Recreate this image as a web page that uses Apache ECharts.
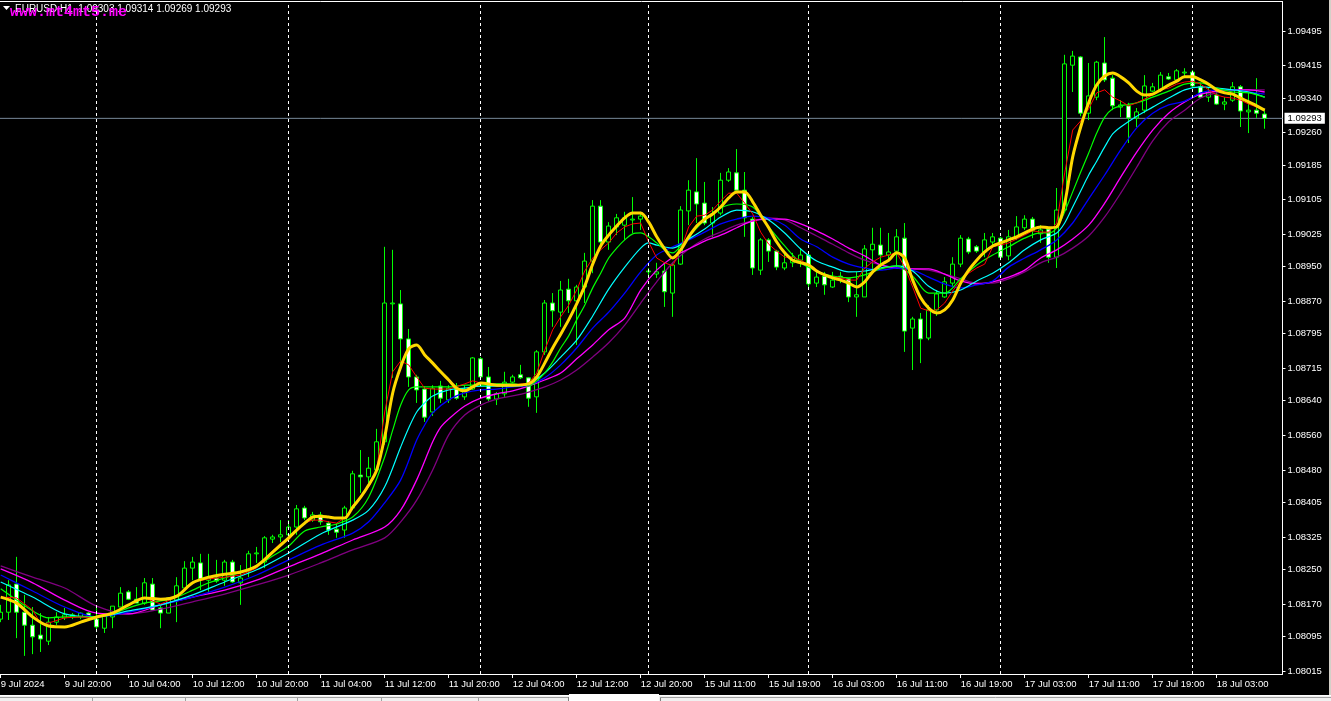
<!DOCTYPE html>
<html><head><meta charset="utf-8">
<script src="https://cdn.jsdelivr.net/npm/echarts/dist/echarts.min.js"></script>
<style>html,body{margin:0;padding:0;background:#000;overflow:hidden}#c{width:1331px;height:701px}</style>
</head><body><div id="c"></div>
<script>
const symbolTitle = 'EURUSD,H1  1.09303 1.09314 1.09269 1.09293';
const watermark = 'www.mt4mt5.me';
const lastPrice = 1.09293;
const xTickLabels = ['9 Jul 2024','9 Jul 20:00','10 Jul 04:00','10 Jul 12:00','10 Jul 20:00','11 Jul 04:00','11 Jul 12:00','11 Jul 20:00','12 Jul 04:00','12 Jul 12:00','12 Jul 20:00','15 Jul 11:00','15 Jul 19:00','16 Jul 03:00','16 Jul 11:00','16 Jul 19:00','17 Jul 03:00','17 Jul 11:00','17 Jul 19:00','18 Jul 03:00'];
const xTickBars = [0,8,16,24,32,40,48,56,64,72,80,88,96,104,112,120,128,136,144,152];
const daySeparatorBars = [12, 36, 60, 81, 101, 125, 149];
const yTickValues = [1.08015,1.08095,1.08170,1.08250,1.08325,1.08405,1.08480,1.08560,1.08640,1.08715,1.08795,1.08870,1.08950,1.09025,1.09105,1.09185,1.09260,1.09340,1.09415,1.09495];

const opens = [1.08135,1.08151,1.08216,1.08151,1.08121,1.08098,1.08084,1.08128,1.08138,1.08140,
1.08140,1.08149,1.08135,1.08114,1.08140,1.08163,1.08198,1.08181,1.08172,1.08216,
1.08161,1.08149,1.08179,1.08207,1.08253,1.08265,1.08225,1.08230,1.08225,1.08267,
1.08219,1.08246,1.08286,1.08267,1.08320,1.08325,1.08330,1.08348,1.08392,1.08364,
1.08376,1.08357,1.08343,1.08341,1.08392,1.08468,1.08464,1.08480,1.08545,1.08864,
1.08864,1.08783,1.08695,1.08667,1.08614,1.08674,1.08642,1.08667,1.08649,1.08667,
1.08737,1.08695,1.08644,1.08656,1.08683,1.08700,1.08693,1.08649,1.08753,1.08866,
1.08845,1.08898,1.08871,1.08903,1.08963,1.09090,1.09007,1.09042,1.09046,1.09058,
1.09060,1.08938,1.08933,1.08940,1.08889,1.08956,1.09079,1.09123,1.09097,1.09051,
1.09074,1.09150,1.09167,1.09127,1.09060,1.08942,1.09012,1.08986,1.08947,1.08959,
1.08965,1.08977,1.08912,1.08928,1.08903,1.08928,1.08922,1.08880,1.08880,1.08989,
1.09000,1.08977,1.08986,1.09016,1.08808,1.08829,1.08785,1.08850,1.08880,1.08912,
1.08956,1.09014,1.08996,1.08984,1.09007,1.09016,1.08975,1.09019,1.09040,1.09060,
1.09026,1.09037,1.08972,1.09081,1.09416,1.09435,1.09305,1.09342,1.09421,1.09386,
1.09319,1.09322,1.09294,1.09312,1.09356,1.09359,1.09389,1.09382,1.09398,1.09400,
1.09366,1.09342,1.09347,1.09326,1.09335,1.09366,1.09308,1.09312,1.09303];
const closes = [1.08151,1.08214,1.08151,1.08121,1.08094,1.08089,1.08128,1.08140,1.08145,1.08145,
1.08149,1.08140,1.08117,1.08142,1.08165,1.08195,1.08181,1.08172,1.08219,1.08156,
1.08149,1.08184,1.08212,1.08253,1.08267,1.08228,1.08232,1.08223,1.08267,1.08221,
1.08230,1.08286,1.08288,1.08323,1.08325,1.08330,1.08348,1.08390,1.08369,1.08376,
1.08360,1.08341,1.08336,1.08392,1.08471,1.08464,1.08484,1.08545,1.08866,1.08866,
1.08783,1.08695,1.08665,1.08602,1.08669,1.08646,1.08669,1.08646,1.08665,1.08739,
1.08695,1.08644,1.08656,1.08683,1.08695,1.08693,1.08646,1.08753,1.08866,1.08848,
1.08896,1.08871,1.08903,1.08963,1.09090,1.09007,1.09044,1.09063,1.09063,1.09060,
1.09067,1.08940,1.08938,1.08892,1.08954,1.09081,1.09127,1.09095,1.09051,1.09072,
1.09150,1.09169,1.09127,1.09063,1.08947,1.09012,1.08986,1.08949,1.08959,1.08972,
1.08977,1.08910,1.08926,1.08908,1.08919,1.08922,1.08880,1.08885,1.08991,1.09002,
1.08977,1.08984,1.09019,1.08801,1.08829,1.08783,1.08850,1.08887,1.08915,1.08956,
1.09016,1.08984,1.08986,1.09012,1.09019,1.08972,1.09019,1.09042,1.09060,1.09033,
1.09035,1.08972,1.09081,1.09419,1.09437,1.09305,1.09345,1.09423,1.09382,1.09322,
1.09324,1.09294,1.09308,1.09368,1.09366,1.09393,1.09384,1.09403,1.09400,1.09368,
1.09342,1.09352,1.09326,1.09331,1.09366,1.09310,1.09312,1.09305,1.09293];
const highs = [1.08168,1.08225,1.08279,1.08191,1.08163,1.08149,1.08140,1.08151,1.08161,1.08149,
1.08151,1.08151,1.08161,1.08145,1.08165,1.08209,1.08202,1.08209,1.08230,1.08230,
1.08170,1.08186,1.08232,1.08269,1.08279,1.08286,1.08286,1.08272,1.08272,1.08272,
1.08260,1.08293,1.08302,1.08327,1.08330,1.08364,1.08364,1.08399,1.08397,1.08383,
1.08383,1.08362,1.08357,1.08397,1.08478,1.08526,1.08510,1.08575,1.08996,1.08989,
1.08896,1.08806,1.08700,1.08674,1.08676,1.08686,1.08676,1.08681,1.08676,1.08741,
1.08741,1.08718,1.08660,1.08707,1.08700,1.08723,1.08695,1.08757,1.08873,1.08889,
1.08917,1.08922,1.08908,1.08982,1.09104,1.09104,1.09053,1.09072,1.09077,1.09111,
1.09077,1.08947,1.08959,1.08959,1.08959,1.09090,1.09150,1.09201,1.09146,1.09088,
1.09167,1.09178,1.09222,1.09169,1.09065,1.09016,1.09016,1.08989,1.08984,1.08982,
1.08993,1.08982,1.08942,1.08938,1.08938,1.08938,1.08924,1.08938,1.09000,1.09040,
1.09040,1.09028,1.09037,1.09051,1.08834,1.08843,1.08861,1.08896,1.08926,1.08972,
1.09023,1.09019,1.09000,1.09028,1.09028,1.09019,1.09035,1.09067,1.09069,1.09065,
1.09046,1.09042,1.09132,1.09440,1.09449,1.09437,1.09421,1.09426,1.09481,1.09393,
1.09335,1.09329,1.09317,1.09393,1.09375,1.09400,1.09398,1.09407,1.09409,1.09405,
1.09375,1.09363,1.09363,1.09342,1.09377,1.09370,1.09352,1.09386,1.09314];
const lows = [1.08128,1.08133,1.08091,1.08050,1.08054,1.08059,1.08075,1.08121,1.08133,1.08135,
1.08135,1.08138,1.08105,1.08103,1.08114,1.08163,1.08179,1.08172,1.08168,1.08156,
1.08114,1.08149,1.08128,1.08202,1.08225,1.08202,1.08198,1.08219,1.08212,1.08219,
1.08168,1.08232,1.08265,1.08253,1.08311,1.08313,1.08323,1.08330,1.08364,1.08360,
1.08353,1.08330,1.08323,1.08323,1.08387,1.08427,1.08450,1.08473,1.08538,1.08693,
1.08718,1.08672,1.08635,1.08591,1.08605,1.08635,1.08635,1.08642,1.08642,1.08665,
1.08693,1.08639,1.08630,1.08649,1.08681,1.08690,1.08626,1.08612,1.08746,1.08811,
1.08811,1.08843,1.08769,1.08866,1.08935,1.09000,1.08989,1.09023,1.09012,1.09028,
1.09035,1.08924,1.08924,1.08857,1.08834,1.08954,1.09046,1.09051,1.09046,1.09019,
1.09069,1.09146,1.09123,1.09019,1.08931,1.08931,1.08961,1.08942,1.08942,1.08949,
1.08949,1.08903,1.08903,1.08885,1.08901,1.08912,1.08868,1.08834,1.08880,1.08935,
1.08954,1.08965,1.08949,1.08753,1.08711,1.08727,1.08780,1.08836,1.08878,1.08903,
1.08949,1.08979,1.08982,1.08972,1.08996,1.08965,1.08965,1.09012,1.09035,1.09016,
1.09005,1.08959,1.08947,1.09077,1.09354,1.09298,1.09289,1.09335,1.09377,1.09312,
1.09296,1.09236,1.09273,1.09305,1.09354,1.09354,1.09382,1.09377,1.09389,1.09363,
1.09340,1.09331,1.09324,1.09312,1.09331,1.09273,1.09259,1.09294,1.09269];

// moving-average lines: [bar index, price]
const maYellow = [[0,1.08186],[2,1.08172],[4,1.08140],[6,1.08119],[8,1.08117],[10,1.08128],[12,1.08140],[14,1.08149],[16,1.08168],[18,1.08184],[20,1.08181],[22,1.08188],[24,1.08219],[26,1.08232],[28,1.08239],[30,1.08244],[32,1.08258],[34,1.08290],[36,1.08323],[37,1.08341],[38,1.08357],[39,1.08371],[40,1.08373],[41,1.08371],[42,1.08369],[43,1.08369],[44,1.08394],[45,1.08417],[46,1.08445],[47,1.08480],[48,1.08556],[49,1.08658],[50,1.08718],[51,1.08760],[52,1.08769],[53,1.08746],[54,1.08727],[55,1.08707],[56,1.08688],[57,1.08669],[58,1.08663],[59,1.08672],[60,1.08681],[62,1.08676],[64,1.08676],[66,1.08679],[67,1.08695],[68,1.08727],[69,1.08762],[70,1.08794],[71,1.08827],[72,1.08864],[73,1.08905],[74,1.08956],[75,1.08998],[76,1.09023],[77,1.09044],[78,1.09063],[79,1.09074],[80,1.09074],[81,1.09053],[82,1.09019],[83,1.08991],[84,1.08970],[85,1.08989],[86,1.09019],[87,1.09044],[88,1.09060],[89,1.09072],[90,1.09088],[91,1.09109],[92,1.09123],[93,1.09123],[94,1.09100],[95,1.09069],[96,1.09040],[97,1.09007],[98,1.08982],[99,1.08965],[100,1.08959],[101,1.08954],[102,1.08940],[103,1.08931],[104,1.08924],[105,1.08919],[106,1.08912],[107,1.08903],[108,1.08915],[109,1.08938],[110,1.08954],[111,1.08965],[112,1.08982],[113,1.08970],[114,1.08919],[115,1.08878],[116,1.08854],[117,1.08843],[118,1.08850],[119,1.08873],[120,1.08912],[121,1.08942],[122,1.08965],[123,1.08984],[124,1.08998],[125,1.09005],[126,1.09012],[127,1.09019],[128,1.09028],[129,1.09037],[130,1.09042],[131,1.09040],[132,1.09042],[133,1.09097],[134,1.09204],[135,1.09273],[136,1.09329],[137,1.09370],[138,1.09391],[139,1.09398],[140,1.09389],[141,1.09375],[142,1.09356],[143,1.09347],[144,1.09349],[145,1.09359],[146,1.09370],[147,1.09379],[148,1.09389],[149,1.09389],[150,1.09382],[151,1.09372],[152,1.09359],[153,1.09352],[154,1.09349],[155,1.09340],[156,1.09331],[157,1.09322],[158,1.09312]];
const maRed = [[0,1.08186],[2,1.08184],[4,1.08156],[5,1.08124],[6,1.08126],[8,1.08138],[10,1.08140],[12,1.08138],[14,1.08147],[16,1.08168],[18,1.08184],[19,1.08177],[20,1.08170],[22,1.08186],[23,1.08207],[24,1.08221],[26,1.08228],[28,1.08232],[30,1.08237],[32,1.08253],[33,1.08276],[34,1.08293],[35,1.08311],[36,1.08318],[37,1.08341],[38,1.08357],[39,1.08364],[40,1.08364],[41,1.08360],[42,1.08357],[43,1.08369],[44,1.08394],[45,1.08415],[46,1.08441],[47,1.08480],[48,1.08614],[49,1.08707],[50,1.08732],[51,1.08723],[52,1.08695],[53,1.08669],[54,1.08667],[56,1.08667],[58,1.08679],[59,1.08686],[60,1.08681],[62,1.08676],[64,1.08676],[66,1.08681],[67,1.08704],[68,1.08757],[69,1.08804],[70,1.08834],[71,1.08861],[72,1.08896],[73,1.08940],[74,1.08970],[75,1.08989],[76,1.09005],[77,1.09028],[78,1.09042],[79,1.09049],[80,1.09051],[81,1.09007],[82,1.08970],[83,1.08959],[84,1.08952],[85,1.08989],[86,1.09042],[87,1.09067],[88,1.09069],[89,1.09081],[90,1.09102],[91,1.09120],[92,1.09120],[93,1.09097],[94,1.09072],[95,1.09030],[96,1.09002],[97,1.08986],[98,1.08972],[99,1.08972],[100,1.08965],[101,1.08954],[102,1.08940],[103,1.08931],[104,1.08926],[105,1.08924],[106,1.08919],[107,1.08919],[108,1.08947],[109,1.08961],[110,1.08972],[111,1.08977],[112,1.08982],[113,1.08949],[114,1.08903],[115,1.08854],[116,1.08848],[117,1.08850],[118,1.08866],[119,1.08894],[120,1.08919],[121,1.08935],[122,1.08947],[123,1.08956],[124,1.08996],[125,1.09000],[126,1.09005],[127,1.09014],[128,1.09023],[129,1.09033],[130,1.09030],[131,1.09030],[132,1.09051],[133,1.09167],[134,1.09266],[135,1.09287],[136,1.09315],[137,1.09352],[138,1.09359],[139,1.09342],[140,1.09333],[141,1.09322],[142,1.09329],[143,1.09338],[144,1.09347],[145,1.09359],[146,1.09363],[147,1.09372],[148,1.09377],[149,1.09379],[150,1.09372],[151,1.09359],[152,1.09347],[153,1.09342],[154,1.09340],[155,1.09335],[156,1.09326],[157,1.09319],[158,1.09312]];
const maGreen = [[0,1.08205],[2,1.08179],[4,1.08154],[6,1.08138],[8,1.08140],[10,1.08140],[12,1.08140],[14,1.08147],[16,1.08161],[18,1.08172],[20,1.08177],[22,1.08186],[24,1.08202],[26,1.08219],[28,1.08230],[30,1.08244],[32,1.08258],[34,1.08281],[36,1.08304],[38,1.08339],[40,1.08348],[42,1.08355],[44,1.08371],[46,1.08417],[48,1.08510],[49,1.08572],[50,1.08630],[51,1.08665],[52,1.08672],[54,1.08672],[56,1.08672],[58,1.08676],[60,1.08676],[62,1.08679],[64,1.08679],[66,1.08674],[67,1.08686],[68,1.08704],[69,1.08730],[70,1.08762],[71,1.08790],[72,1.08827],[73,1.08861],[74,1.08901],[75,1.08935],[76,1.08970],[77,1.08993],[78,1.09012],[79,1.09026],[80,1.09028],[81,1.09019],[82,1.09005],[83,1.08989],[84,1.08982],[85,1.08998],[86,1.09019],[88,1.09058],[90,1.09086],[92,1.09095],[94,1.09088],[96,1.09042],[98,1.08998],[100,1.08959],[102,1.08940],[104,1.08928],[106,1.08924],[108,1.08931],[110,1.08945],[112,1.08952],[114,1.08928],[116,1.08889],[118,1.08889],[120,1.08922],[122,1.08954],[124,1.08977],[126,1.08996],[128,1.09016],[130,1.09028],[131,1.09028],[132,1.09040],[133,1.09077],[134,1.09123],[135,1.09169],[136,1.09213],[137,1.09259],[138,1.09296],[139,1.09315],[140,1.09322],[142,1.09329],[144,1.09342],[146,1.09356],[148,1.09372],[150,1.09375],[152,1.09363],[154,1.09354],[156,1.09352],[158,1.09342]];
const maCyan = [[0,1.08221],[4,1.08186],[8,1.08147],[12,1.08140],[16,1.08154],[20,1.08168],[24,1.08191],[28,1.08221],[32,1.08249],[36,1.08288],[40,1.08332],[44,1.08364],[46,1.08387],[48,1.08441],[50,1.08533],[51,1.08577],[52,1.08614],[53,1.08635],[54,1.08651],[56,1.08665],[58,1.08669],[60,1.08674],[62,1.08674],[64,1.08674],[66,1.08679],[68,1.08704],[70,1.08741],[72,1.08780],[74,1.08836],[76,1.08898],[78,1.08949],[80,1.08993],[81,1.09005],[82,1.09000],[84,1.08993],[86,1.09014],[88,1.09037],[90,1.09065],[92,1.09081],[94,1.09077],[96,1.09058],[98,1.09028],[100,1.08991],[102,1.08963],[104,1.08949],[106,1.08938],[108,1.08940],[110,1.08947],[112,1.08952],[114,1.08940],[116,1.08905],[118,1.08889],[120,1.08896],[122,1.08917],[124,1.08935],[126,1.08959],[128,1.08989],[130,1.09012],[132,1.09028],[133,1.09051],[134,1.09088],[135,1.09125],[136,1.09162],[137,1.09194],[138,1.09227],[139,1.09257],[140,1.09273],[142,1.09298],[144,1.09319],[146,1.09340],[148,1.09359],[150,1.09366],[152,1.09363],[154,1.09359],[156,1.09354],[158,1.09342]];
const maBlue = [[0,1.08237],[4,1.08200],[8,1.08163],[12,1.08140],[16,1.08151],[20,1.08168],[24,1.08186],[28,1.08209],[32,1.08237],[36,1.08272],[40,1.08306],[44,1.08334],[46,1.08360],[48,1.08404],[50,1.08457],[52,1.08549],[53,1.08584],[54,1.08612],[56,1.08642],[58,1.08658],[60,1.08665],[62,1.08667],[64,1.08672],[66,1.08676],[68,1.08693],[70,1.08723],[72,1.08762],[74,1.08808],[76,1.08845],[78,1.08889],[80,1.08938],[82,1.08977],[84,1.08996],[86,1.09012],[88,1.09030],[90,1.09049],[92,1.09060],[94,1.09067],[96,1.09063],[98,1.09046],[100,1.09014],[102,1.08996],[104,1.08972],[106,1.08956],[108,1.08947],[110,1.08942],[112,1.08947],[114,1.08942],[116,1.08926],[118,1.08910],[120,1.08901],[122,1.08908],[124,1.08917],[126,1.08949],[128,1.08970],[130,1.08989],[132,1.09012],[134,1.09051],[136,1.09107],[138,1.09162],[140,1.09220],[142,1.09271],[144,1.09305],[146,1.09324],[148,1.09333],[150,1.09352],[152,1.09359],[154,1.09359],[156,1.09354],[158,1.09349]];
const maMagenta = [[0,1.08251],[4,1.08219],[8,1.08179],[12,1.08149],[16,1.08147],[20,1.08168],[24,1.08186],[28,1.08202],[32,1.08225],[36,1.08256],[40,1.08286],[44,1.08318],[48,1.08348],[50,1.08387],[52,1.08457],[54,1.08545],[55,1.08579],[56,1.08598],[58,1.08628],[60,1.08646],[62,1.08656],[64,1.08663],[66,1.08674],[68,1.08688],[70,1.08704],[72,1.08737],[74,1.08769],[76,1.08804],[78,1.08831],[80,1.08896],[82,1.08942],[84,1.08972],[86,1.08991],[88,1.09009],[90,1.09023],[92,1.09040],[94,1.09056],[96,1.09060],[98,1.09060],[100,1.09049],[102,1.09033],[104,1.09014],[106,1.08993],[108,1.08975],[110,1.08954],[112,1.08947],[114,1.08945],[116,1.08945],[118,1.08933],[120,1.08917],[122,1.08910],[124,1.08915],[126,1.08926],[128,1.08942],[130,1.08970],[132,1.08989],[134,1.09014],[136,1.09046],[138,1.09097],[140,1.09157],[142,1.09215],[144,1.09266],[146,1.09305],[148,1.09331],[150,1.09349],[152,1.09356],[154,1.09359],[156,1.09359],[158,1.09354]];
const maPurple = [[0,1.08258],[4,1.08232],[8,1.08207],[12,1.08165],[16,1.08147],[20,1.08158],[24,1.08175],[28,1.08193],[32,1.08214],[36,1.08237],[40,1.08265],[44,1.08295],[48,1.08323],[50,1.08360],[52,1.08410],[54,1.08480],[56,1.08561],[58,1.08607],[60,1.08630],[62,1.08644],[64,1.08651],[66,1.08660],[68,1.08672],[70,1.08688],[72,1.08711],[74,1.08741],[76,1.08774],[78,1.08815],[80,1.08866],[82,1.08915],[84,1.08959],[86,1.08991],[88,1.09014],[90,1.09030],[92,1.09046],[94,1.09056],[96,1.09063],[98,1.09058],[100,1.09040],[102,1.09021],[104,1.09002],[106,1.08982],[108,1.08965],[110,1.08954],[112,1.08947],[114,1.08945],[116,1.08942],[118,1.08933],[120,1.08922],[122,1.08912],[124,1.08912],[126,1.08922],[128,1.08938],[130,1.08959],[132,1.08972],[134,1.08993],[136,1.09021],[138,1.09065],[140,1.09120],[142,1.09180],[144,1.09241],[146,1.09285],[148,1.09312],[150,1.09340],[152,1.09352],[154,1.09359],[156,1.09359],[158,1.09359]];

const FONT = "'Liberation Sans', Arial, sans-serif";
const X_MIN = -0.0875, X_MAX = 160.225;   // visible bar range (with chart shift on the right)
const candles = opens.map((o, i) => [i, o, closes[i], lows[i], highs[i]]);

const chart = echarts.init(document.getElementById('c'), null, {renderer: 'canvas'});
function maSeries(data, color, width, z, smooth) {
  return {type: 'line', data: data, showSymbol: false, symbol: 'none', smooth: smooth, z: z,
    silent: true, animation: false, lineStyle: {color: color, width: width}};
}
chart.setOption({
  backgroundColor: '#000000',
  animation: false,
  grid: {left: 0, right: 48.5, top: 2, bottom: 27, containLabel: false, outerBoundsMode: 'none'},
  xAxis: {
    type: 'value', min: X_MIN, max: X_MAX,
    axisLine: {show: true, onZero: false, lineStyle: {color: '#ffffff', width: 1}},
    axisTick: {show: true, customValues: xTickBars, length: 4, lineStyle: {color: '#ffffff'}},
    axisLabel: {show: true, customValues: xTickBars, color: '#ffffff', fontSize: 9.5, fontFamily: FONT, align: 'left', margin: 5,
      formatter: v => xTickLabels[xTickBars.indexOf(Math.round(v))] || ''},
    splitLine: {show: false}
  },
  yAxis: {
    type: 'value', position: 'right', min: 1.080081, max: 1.095621, scale: true,
    axisLine: {show: true, onZero: false, lineStyle: {color: '#ffffff', width: 1}},
    axisTick: {show: true, length: 3, customValues: yTickValues, lineStyle: {color: '#ffffff'}},
    axisLabel: {show: true, customValues: yTickValues, color: '#ffffff', fontSize: 9.5, fontFamily: FONT, margin: 5,
      formatter: v => v.toFixed(5)},
    splitLine: {show: false}
  },
  series: [
    {type: 'line', data: [[X_MIN, lastPrice], [X_MAX, lastPrice]], z: 1, silent: true, showSymbol: false, symbol: 'none',
      lineStyle: {color: '#778899', width: 1},
      endLabel: {show: true, formatter: lastPrice.toFixed(5), color: '#000000', backgroundColor: '#ffffff',
        padding: [1, 3, 0, 3], fontSize: 9.5, fontFamily: FONT, distance: 2},
      markLine: {symbol: ['none', 'none'], silent: true, animation: false, label: {show: false},
        lineStyle: {color: '#ffffff', width: 1, type: [3, 3]},
        data: daySeparatorBars.map(b => ({xAxis: b}))}},
    {type: 'candlestick', data: candles, encode: {x: 0, y: [1, 2, 3, 4]}, z: 2, barWidth: 4, silent: true, animation: false,
      itemStyle: {color: '#000000', color0: '#ffffff', borderColor: '#00ff00', borderColor0: '#00ff00',
        borderColorDoji: '#00ff00', borderWidth: 1}},
    maSeries(maPurple, '#800080', 1.3, 3, 0.3),
    maSeries(maMagenta, '#ff00ff', 1.3, 3, 0.3),
    maSeries(maBlue, '#0000ff', 1.3, 3, 0.3),
    maSeries(maCyan, '#00ffff', 1.2, 3, 0.3),
    maSeries(maGreen, '#00ff00', 1.2, 3, 0.3),
    maSeries(maRed, '#ff0000', 1, 4, false),
    maSeries(maYellow, '#ffd700', 3, 5, 0.3)
  ],
  graphic: [
    {type: 'line', shape: {x1: 0, y1: 1.5, x2: 1283, y2: 1.5}, style: {stroke: '#ffffff', lineWidth: 1}, z: 10},
    {type: 'polygon', shape: {points: [[3, 6], [10, 6], [6.5, 10]]}, style: {fill: '#ffffff'}, z: 10},
    {type: 'text', left: 15, top: 4, style: {text: symbolTitle, fill: '#ffffff', font: '10px ' + FONT}, z: 10},
    {type: 'text', left: 10, top: 5, style: {text: watermark, fill: '#ff00ff', font: "bold 15px 'Liberation Mono', 'DejaVu Sans Mono', monospace"}, z: 11},
    {type: 'rect', shape: {x: 1329, y: 0, width: 2, height: 695}, style: {fill: '#d4d0c8'}, z: 10},
    {type: 'rect', shape: {x: 0, y: 695, width: 1331, height: 6}, style: {fill: '#f0f0f0'}, z: 10},
    {type: 'line', shape: {x1: 0, y1: 695.5, x2: 1331, y2: 695.5}, style: {stroke: '#ffffff', lineWidth: 1}, z: 11},
    {type: 'line', shape: {x1: 0, y1: 697.5, x2: 568, y2: 697.5}, style: {stroke: '#a0a0a0', lineWidth: 1}, z: 11},
    {type: 'line', shape: {x1: 92.5, y1: 697, x2: 92.5, y2: 701}, style: {stroke: '#a0a0a0', lineWidth: 1}, z: 11},
    {type: 'line', shape: {x1: 185.5, y1: 697, x2: 185.5, y2: 701}, style: {stroke: '#a0a0a0', lineWidth: 1}, z: 11},
    {type: 'line', shape: {x1: 297.5, y1: 697, x2: 297.5, y2: 701}, style: {stroke: '#a0a0a0', lineWidth: 1}, z: 11},
    {type: 'line', shape: {x1: 381.5, y1: 697, x2: 381.5, y2: 701}, style: {stroke: '#a0a0a0', lineWidth: 1}, z: 11},
    {type: 'line', shape: {x1: 478.5, y1: 697, x2: 478.5, y2: 701}, style: {stroke: '#a0a0a0', lineWidth: 1}, z: 11},
    {type: 'line', shape: {x1: 568.5, y1: 697, x2: 568.5, y2: 701}, style: {stroke: '#808080', lineWidth: 1}, z: 11},
    {type: 'rect', shape: {x: 569, y: 694, width: 90, height: 7}, style: {fill: '#ffffff'}, z: 11},
    {type: 'line', shape: {x1: 660.5, y1: 697, x2: 660.5, y2: 701}, style: {stroke: '#808080', lineWidth: 1}, z: 11},
    {type: 'line', shape: {x1: 660, y1: 697.5, x2: 1331, y2: 697.5}, style: {stroke: '#a0a0a0', lineWidth: 1}, z: 11}
  ]
});
</script>
</body></html>
